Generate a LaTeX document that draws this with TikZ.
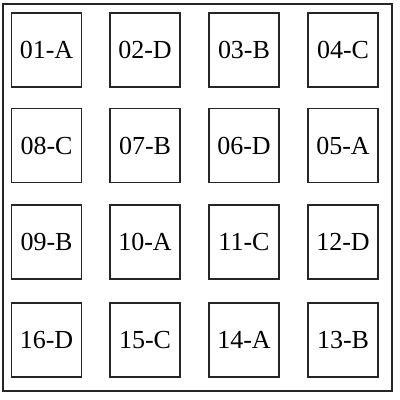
\documentclass[tikz,border=0pt]{standalone}
\usepackage{fontspec}
\setmainfont{Liberation Serif}
\usepackage{tikz}

\tikzset{
	cell/.style={draw=black!85, line width=1.3pt, minimum width=70pt, minimum height=74pt, inner sep=0pt, font=\fontsize{26}{28}\selectfont}
}

\begin{document}
\begin{tikzpicture}[x=1pt, y=-1pt]
		\useasboundingbox (0,0) rectangle (400,400);
		\draw[line width=2pt, black!85] (2.5,3.5) rectangle (391.5,391);
		% first row, left to right
		\foreach \n/\lab/\cx in {01/01-A/46.5, 02/02-D/145, 03/03-B/244, 04/04-C/343}{
			\node[cell] (c\n) at (\cx,50) {\lab};
		}
		% second row runs back
		\foreach \n/\lab/\cx in {08/08-C/46.5, 07/07-B/145, 06/06-D/244, 05/05-A/343}{
			\node[cell] (c\n) at (\cx,145.5) {\lab};
		}
		\foreach \n/\lab/\cx in {09/09-B/46.5, 10/10-A/145, 11/11-C/244, 12/12-D/343}{
			\node[cell] (c\n) at (\cx,242) {\lab};
		}
		\foreach \n/\lab/\cx in {16/16-D/46.5, 15/15-C/145, 14/14-A/244, 13/13-B/343}{
			\node[cell] (c\n) at (\cx,340) {\lab};
		}
	\end{tikzpicture}
\end{document}
